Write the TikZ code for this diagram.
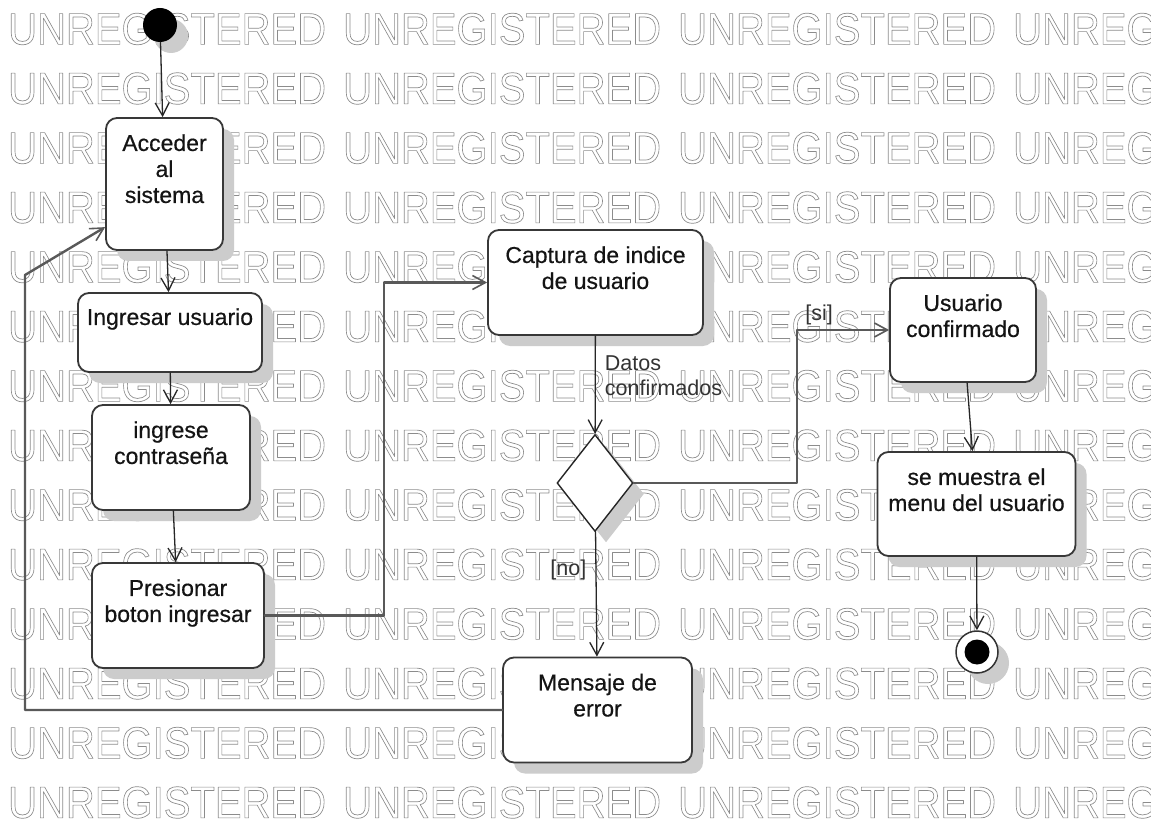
\documentclass[tikz,border=0pt]{standalone}
\usepackage{fontspec}
\setmainfont{Liberation Sans}
\newfontfamily\actfont[FakeBold=0.5]{Liberation Sans}
\usetikzlibrary{positioning,shapes.geometric,shadows,arrows.meta}

% 空心字（水印）
\newcommand\hollow[1]{\special{pdf:literal direct 1 Tr 0.7 w}#1\special{pdf:literal direct 0 Tr}}

\tikzset{
  shade/.style={drop shadow={shadow xshift=11pt, shadow yshift=-11pt, fill=black!20, opacity=1}},
  act/.style={draw=black!78, line width=1.8pt, fill=white, rounded corners=11pt, inner sep=0pt, shade},
  acttext/.style={inner sep=0pt, align=center, font=\actfont\fontsize{23}{26}\selectfont, text=black!92},
  dec/.style={diamond, draw=black!85, line width=1.4pt, fill=white, inner sep=0pt,
    minimum width=76pt, minimum height=97pt, shade},
  startnode/.style={circle, fill=black, minimum size=34pt, inner sep=0pt, shade},
  endnode/.style={circle, draw=black!80, line width=1.5pt, fill=white, minimum size=42pt, inner sep=0pt, shade,
    path picture={\fill[black] (path picture bounding box.center) circle (12.5pt);}},
  flow/.style={line width=1.3pt, draw=black!85, -{Straight Barb[length=13pt,width=14pt,line width=1.3pt]}},
  route/.style={line width=2.4pt, draw=black!65, -{Straight Barb[length=13pt,width=14pt,line width=1.6pt]}},
  lbl/.style={inner sep=0pt, font=\fontsize{21.5}{25}\selectfont, text=black!80, align=left},
  wmark/.style={inner sep=0pt, anchor=west, text=black!45, font=\fontsize{44.7}{48}\selectfont},
}

\begin{document}
\begin{tikzpicture}[x=1pt, y=-1pt, line cap=round, line join=round]

  \useasboundingbox (0,0) rectangle (1151,826);
  \fill[white] (0,0) rectangle (1151,826);

  %% ════ 水印 ════
  \begin{scope}
    \clip (0,0) rectangle (1151,826);
    \foreach \r in {0,...,13}
      \foreach \c in {0,...,3}
        \node[wmark] (wm\r\c) at ({8+335*\c},{29+59.5*\r}) {\hollow{\scalebox{0.895}[1]{UNREGISTERED}}};
  \end{scope}

  %% ════ 节点 ════
  \node[startnode] (init) at (160,25) {};

  \node[act, minimum width=117pt, minimum height=132pt] (acc) at (164.5,184) {};
  \node[acttext, below=17pt of acc.north] (accT) {Acceder\\al\\sistema};

  \node[act, minimum width=184pt, minimum height=79pt] (ing) at (170,332.5) {};
  \node[acttext, below=16pt of ing.north] (ingT) {Ingresar usuario};

  \node[act, minimum width=158pt, minimum height=105pt] (pass) at (171,457.5) {};
  \node[acttext, below=17pt of pass.north] (passT) {ingrese\\contraseña};

  \node[act, minimum width=172pt, minimum height=105pt] (pres) at (178,615.5) {};
  \node[acttext, below=17pt of pres.north] (presT) {Presionar\\boton ingresar};

  \node[act, minimum width=215pt, minimum height=105pt] (cap) at (595.5,282.5) {};
  \node[acttext, below=17pt of cap.north] (capT) {Captura de indice\\de usuario};

  \node[dec] (dec) at (595,483) {};

  \node[act, minimum width=146pt, minimum height=104pt] (ucon) at (963,330) {};
  \node[acttext, below=17pt of ucon.north] (uconT) {Usuario\\confirmado};

  \node[act, minimum width=198pt, minimum height=104pt] (menu) at (976.5,504) {};
  \node[acttext, below=17pt of menu.north] (menuT) {se muestra el\\menu del usuario};

  \node[act, minimum width=189pt, minimum height=105pt] (err) at (597.5,710) {};
  \node[acttext, below=17pt of err.north] (errT) {Mensaje de\\error};

  \node[endnode] (fin) at (977,652) {};

  %% ════ 连线 ════
  \coordinate (j1) at (384,0);
  \coordinate (j2) at (797,0);
  \coordinate (j3) at (25,275);

  \draw[flow] (init) -- (acc);
  \draw[flow] (acc) -- (ing);
  \draw[flow] (ing) -- (pass);
  \draw[flow] (pass) -- (pres);
  \draw[route] (pres.east) -- (pres.east -| j1) -- (cap.west -| j1) -- (cap.west);
  \draw[flow] (cap) -- node[lbl, pos=0.2, anchor=north west, xshift=9pt] (datos) {Datos\\confirmados} (dec);
  \draw[route] (dec.east) -- (dec.east -| j2) -- (ucon.west -| j2)
    -- node[lbl, pos=0.24, above=4pt] (si) {[si]} (ucon.west);
  \draw[flow] (dec) -- node[lbl, pos=0.31, left=9pt] (no) {[no]} (err);
  \draw[route] (err.west) -- (err.west -| j3) -- (j3) -- (acc.216);
  \draw[flow] (ucon) -- (menu);
  \draw[flow] (menu) -- (fin);

\end{tikzpicture}
\end{document}
